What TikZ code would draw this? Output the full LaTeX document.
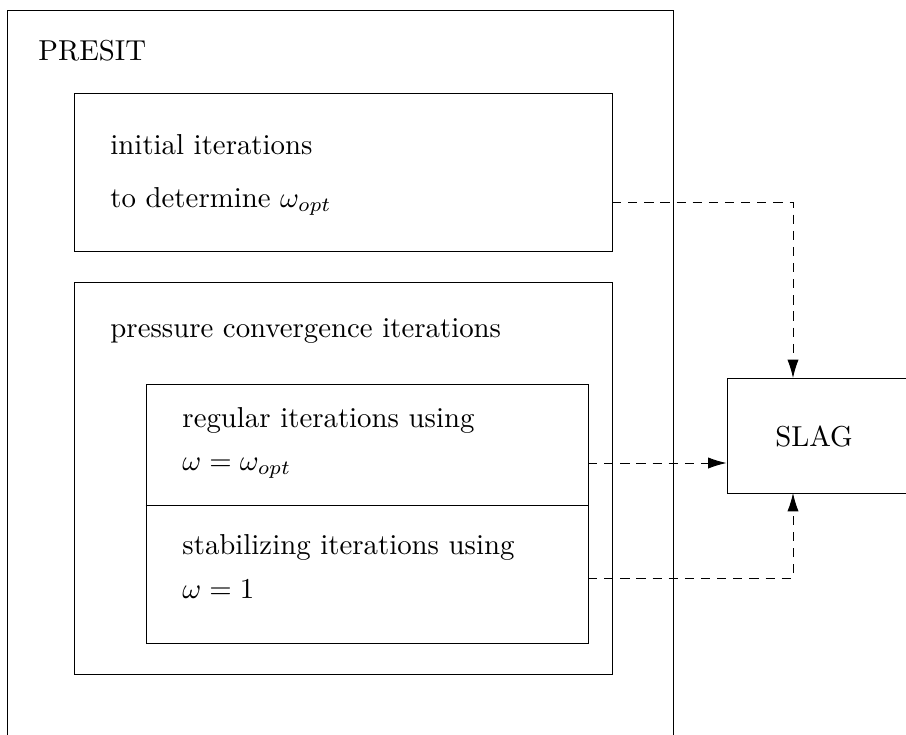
\documentclass[tikz,border=0pt]{standalone}
\usetikzlibrary{arrows.meta,fit}
\begin{document}
\begin{tikzpicture}[x=0.347pt,y=-0.347pt,line width=0.32pt,
  box/.style={draw,inner sep=0pt},
  txt/.style={anchor=base west,inner sep=0pt},
  dashline/.style={draw,dash pattern=on 3.2pt off 2.4pt},
  link/.style={dashline,-{Latex[length=6.4pt,width=3.9pt]}}]
\useasboundingbox (0,0) rectangle (906,734);
\clip (0,0) rectangle (906,734);

% outer PRESIT frame (runs past the lower edge of the page)
\node[box, fit={(7,10) (673,780)}] (presit) {};
\node[txt] (presitlbl) at (38,60) {PRESIT};

% initial iterations
\node[box, fit={(74,93) (612,251)}] (init) {};
\node[txt] (init1) at (110,154) {initial iterations};
\node[txt] (init2) at (110,207) {to determine $\omega_{opt}$};

% pressure convergence iterations
\node[box, fit={(74,282) (612,674)}] (press) {};
\node[txt] (presslbl) at (110,337) {pressure convergence iterations};

% regular / stabilizing iterations
\node[box, fit={(146,384) (588,643)}] (inner) {};
\draw (inner.west |- 0,505) coordinate (divl) -- (inner.east |- 0,505) coordinate (divr);
\node[txt] (reg1) at (182,427) {regular iterations using};
\node[txt] (reg2) at (182,470) {$\omega=\omega_{opt}$};
\node[txt] (stab1) at (182,554) {stabilizing iterations using};
\node[txt] (stab2) at (182,598) {$\omega=1$};

% SLAG (open to the right edge)
\node[box, fit={(727,378) (940,493)}] (slag) {};
\node[inner sep=0pt] (slaglbl) at (814,436) {SLAG};

% connection points
\coordinate (topin) at (793,378);
\coordinate (botin) at (793,493);
\coordinate (aout) at (612,202);
\coordinate (bout) at (588,463);
\coordinate (cout) at (588,578);

\path[link] (aout) -| (topin);
\path[link] (bout) -- (bout -| slag.west);
\path[link] (cout) -| (botin);
\end{tikzpicture}
\end{document}
